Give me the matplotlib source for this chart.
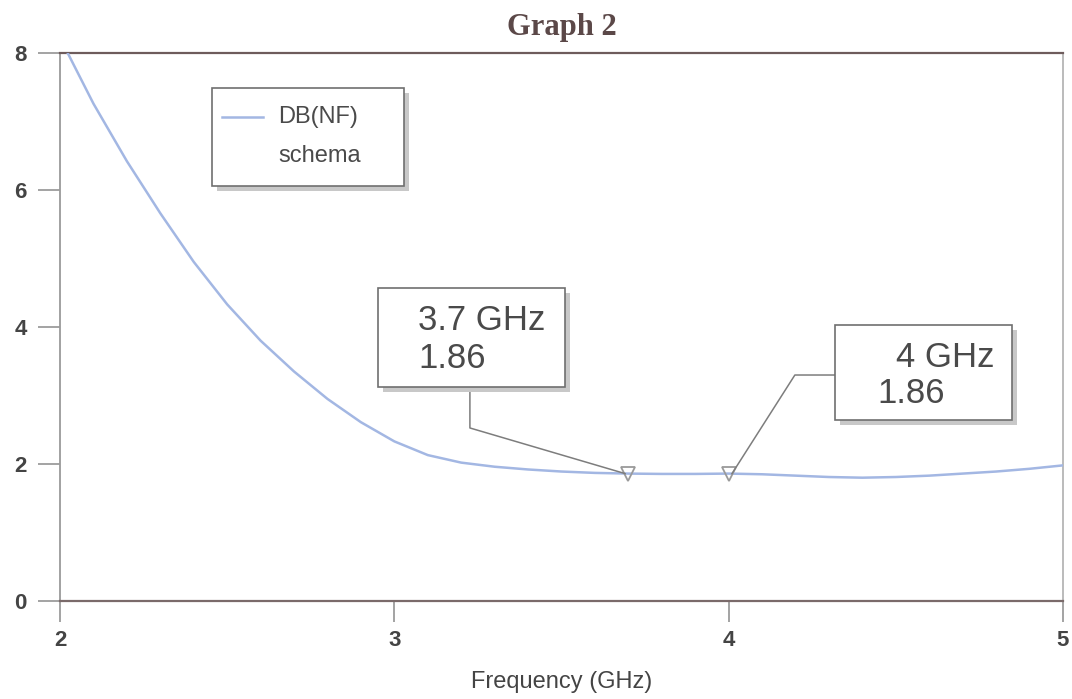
import numpy as np
import matplotlib
matplotlib.use('Agg')
import matplotlib.pyplot as plt
from matplotlib.patches import Rectangle

# noise figure curve
freq = [2.0, 2.1, 2.2, 2.3, 2.4, 2.5, 2.6, 2.7, 2.8, 2.9, 3.0,
        3.1, 3.2, 3.3, 3.4, 3.5, 3.6, 3.7, 3.8, 3.9, 4.0,
        4.1, 4.2, 4.3, 4.4, 4.5, 4.6, 4.7, 4.8, 4.9, 5.0]
nf_db = [8.22, 7.26, 6.42, 5.66, 4.95, 4.33, 3.80, 3.35, 2.95, 2.61, 2.33,
         2.13, 2.02, 1.96, 1.92, 1.89, 1.87, 1.86, 1.855, 1.855, 1.86,
         1.85, 1.83, 1.81, 1.80, 1.81, 1.83, 1.86, 1.89, 1.93, 1.98]

marker_freq = [3.7, 4.0]
marker_val = [1.86, 1.86]
marker_text = ["3.7 GHz\n1.86", "4 GHz\n1.86"]

xticks = [2, 3, 4, 5]
yticks = [0, 2, 4, 6, 8]

plt.rcParams['font.family'] = ['Liberation Sans', 'DejaVu Sans']

fig = plt.figure(figsize=(10.72, 6.99), dpi=100)
ax = fig.add_axes([0.056, 0.1402, 0.9356, 0.784])

curve_col = '#a3b7e3'
ax.plot(freq, nf_db, color=curve_col, lw=1.8, zorder=3)
ax.plot(marker_freq, marker_val, 'v', ms=10, mfc='none', mec='#9a9a9a', mew=1.3, zorder=4)

ax.set_xlim(2, 5)
ax.set_ylim(0, 8)
ax.set_xticks(xticks)
ax.set_yticks(yticks)
ax.tick_params(axis='y', direction='out', length=16, width=1.1, color='#8a8a8a',
               pad=8, labelsize=16, labelcolor='#444444')
ax.tick_params(axis='x', direction='out', length=15, width=1.1, color='#8a8a8a',
               pad=6, labelsize=16, labelcolor='#444444')
for lab in ax.get_xticklabels() + ax.get_yticklabels():
    lab.set_fontweight('bold')

ax.spines['top'].set_color('#6e5c5c')
ax.spines['top'].set_linewidth(1.6)
ax.spines['bottom'].set_color('#7a6a6a')
ax.spines['bottom'].set_linewidth(1.6)
ax.spines['left'].set_color('#9a9a9a')
ax.spines['left'].set_linewidth(1.3)
ax.spines['right'].set_color('#b5b5b5')
ax.spines['right'].set_linewidth(1.3)

ax.set_title("Graph 2", family=['Liberation Serif', 'DejaVu Serif'], fontweight='bold',
             fontsize=22, color='#5b4848', pad=13)
ax.set_xlabel("Frequency (GHz)", fontsize=17, color='#444444', labelpad=14)


def box(x0, y0, x1, y1):
    # drop shadow then the white box
    dx, dy = 0.014, 0.07
    ax.add_patch(Rectangle((x0 + dx, y0 - dy), x1 - x0, y1 - y0, facecolor='#c8c8c8',
                           edgecolor='none', zorder=5))
    ax.add_patch(Rectangle((x0, y0), x1 - x0, y1 - y0, facecolor='white',
                           edgecolor='#6f6f6f', lw=1.2, zorder=6))


# legend
box(2.455, 6.058, 3.029, 7.489)
ax.plot([2.485, 2.607], [7.066, 7.066], color=curve_col, lw=1.8, zorder=7)
ax.text(2.652, 6.978, "DB(NF)", fontsize=17, color='#4a4a4a', va='baseline', zorder=7)
ax.text(2.652, 6.409, "schema", fontsize=17, color='#4a4a4a', va='baseline', zorder=7)

# marker readouts with leader lines
lead_col = '#7d7d7d'
box(2.951, 3.124, 3.510, 4.569)
ax.plot([3.226, 3.226, marker_freq[0] - 0.01], [3.124, 2.526, marker_val[0]],
        color=lead_col, lw=1.1, zorder=4)
t1 = marker_text[0].split("\n")
ax.text(3.071, 3.956, t1[0], fontsize=25, color='#4a4a4a', va='baseline', zorder=7)
ax.text(3.071, 3.401, t1[1], fontsize=25, color='#4a4a4a', va='baseline', zorder=7)

box(4.318, 2.642, 4.848, 4.029)
ax.plot([4.318, 4.198, marker_freq[1] + 0.01], [3.299, 3.299, marker_val[1]],
        color=lead_col, lw=1.1, zorder=4)
t2 = marker_text[1].split("\n")
ax.text(4.50, 3.416, t2[0], fontsize=25, color='#4a4a4a', va='baseline', zorder=7)
ax.text(4.444, 2.891, t2[1], fontsize=25, color='#4a4a4a', va='baseline', zorder=7)

fig.savefig('out.png', dpi=100)
